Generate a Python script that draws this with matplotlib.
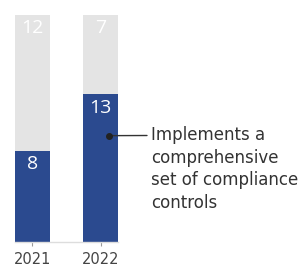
import matplotlib
matplotlib.use("Agg")
import matplotlib.pyplot as plt

years = ['2021', '2022']
implements = [8, 13]
not_implements = [12, 7]
annotation = "Implements a\ncomprehensive\nset of compliance\ncontrols"

plt.rcParams['font.family'] = ['Open Sans', 'DejaVu Sans']

W, H = 308, 266
fig = plt.figure(figsize=(W / 100, H / 100), dpi=100)
ax = fig.add_axes([15 / W, 24 / H, 103 / W, 227 / H])

blue = '#2B4A8F'
grey = '#E4E4E4'
x = list(range(len(years)))
bw = 0.515
ax.bar(x, implements, width=bw, color=blue)
ax.bar(x, not_implements, width=bw, bottom=implements, color=grey)

for i in x:
    ax.annotate(str(implements[i]), xy=(i, implements[i]), xytext=(0, -9.5),
                textcoords='offset points', ha='center', va='center',
                color='white', fontsize=14)
    ax.annotate(str(not_implements[i]), xy=(i, implements[i] + not_implements[i]),
                xytext=(0, -9.5), textcoords='offset points', ha='center',
                va='center', color='white', fontsize=14)

ax.set_xlim(-0.257, 1.257)
ax.set_ylim(0, 20)
for s in ['top', 'right', 'left']:
    ax.spines[s].set_visible(False)
ax.spines['bottom'].set_color('#DDDDDD')
ax.spines['bottom'].set_linewidth(1)
ax.set_yticks([])
ax.set_xticks(x)
ax.set_xticklabels(years, family=['DejaVu Sans'])
ax.tick_params(axis='x', length=3, color='#999999', pad=4.5, labelsize=10.5,
               labelcolor='#444444')

# annotation
dot_x, dot_y = 1.125, 9.37
ax.plot([dot_x], [dot_y], 'o', ms=4, color='#222222', clip_on=False, zorder=5)
ax.annotate('', xy=(dot_x, dot_y), xycoords='data',
            xytext=(147, H - 135.5), textcoords='figure pixels',
            arrowprops=dict(arrowstyle='-', color='#333333', lw=1,
                            shrinkA=0, shrinkB=0))
fig.text(151 / W, 1 - 126 / H, annotation, ha='left', va='top',
         fontsize=12, color='#333333', linespacing=1.33,
         family=['DejaVu Sans'])

fig.savefig('out.png', dpi=100)
